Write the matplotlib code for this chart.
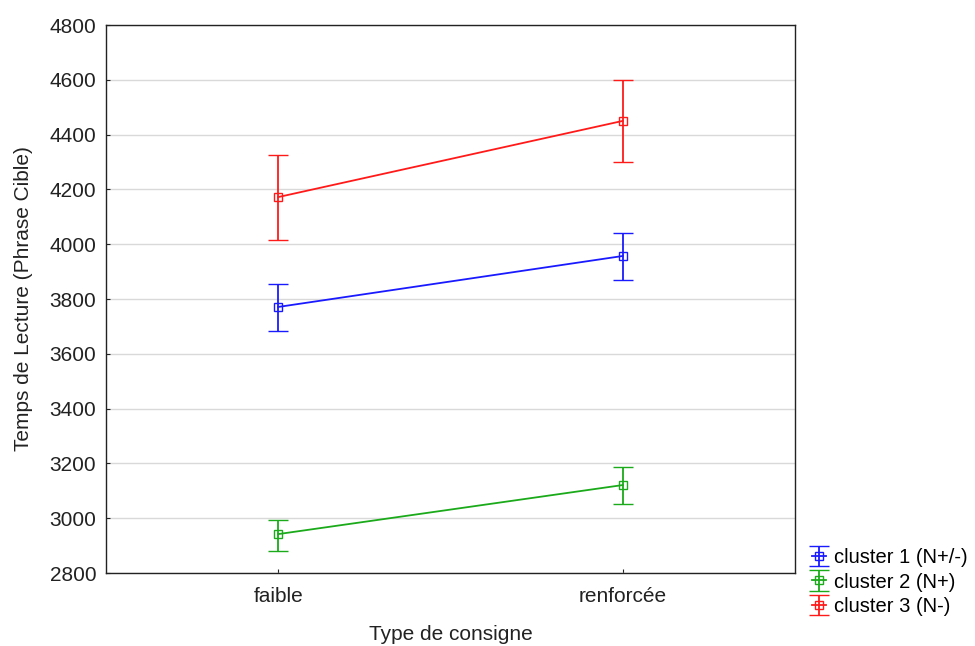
import matplotlib
matplotlib.use("Agg")
import matplotlib.pyplot as plt
import numpy as np

plt.rcParams["font.family"] = ["Liberation Sans", "DejaVu Sans"]

categories = ["faible", "renforcée"]
series = ["cluster 1 (N+/-)", "cluster 2 (N+)", "cluster 3 (N-)"]
colors = ["#1a1aff", "#1aaa1a", "#ff1a1a"]
means = [[3771, 3957], [2942, 3121], [4172, 4450]]
upper = [[3855, 4041], [2993, 3187], [4326, 4599]]
lower = [[3683, 3869], [2880, 3052], [4015, 4300]]

FS = 15
fig = plt.figure(figsize=(9.75, 6.46), dpi=100)
ax = fig.add_axes([0.1087, 0.113, 0.7067, 0.8483])

x = np.arange(len(categories))
for name, col, m, up, lo in zip(series, colors, means, upper, lower):
    m = np.array(m); up = np.array(up); lo = np.array(lo)
    ax.errorbar(x, m, yerr=[m - lo, up - m], color=col, lw=1.3, elinewidth=1.3,
                capsize=7, capthick=1.3, marker="s", ms=6, mfc="none", mec=col,
                mew=1.0, label=name)

ax.set_xlim(-0.5, 1.5)
ax.set_ylim(2800, 4800)
ax.set_yticks(np.arange(2800, 4801, 200))
ax.set_xticks(x)
ax.set_xticklabels(categories)
ax.yaxis.grid(True, color="#d9d9d9", lw=1)
ax.set_axisbelow(True)
ax.tick_params(direction="in", length=3, labelsize=FS, colors="#222222")
ax.tick_params(axis="y", pad=7)
ax.tick_params(axis="x", pad=10)
for s in ax.spines.values():
    s.set_color("#222222"); s.set_linewidth(1.0)
ax.set_xlabel("Type de consigne", fontsize=FS, color="#222222", labelpad=14)
ax.set_ylabel("Temps de Lecture (Phrase Cible)", fontsize=FS, color="#222222", labelpad=12)

leg = fig.legend(loc="lower left", bbox_to_anchor=(0.8246, 0.034), frameon=False,
                 fontsize=14.5, handlelength=0.7, handletextpad=0.4, labelspacing=0.27,
                 borderaxespad=0)

fig.savefig("out.png", dpi=100)
